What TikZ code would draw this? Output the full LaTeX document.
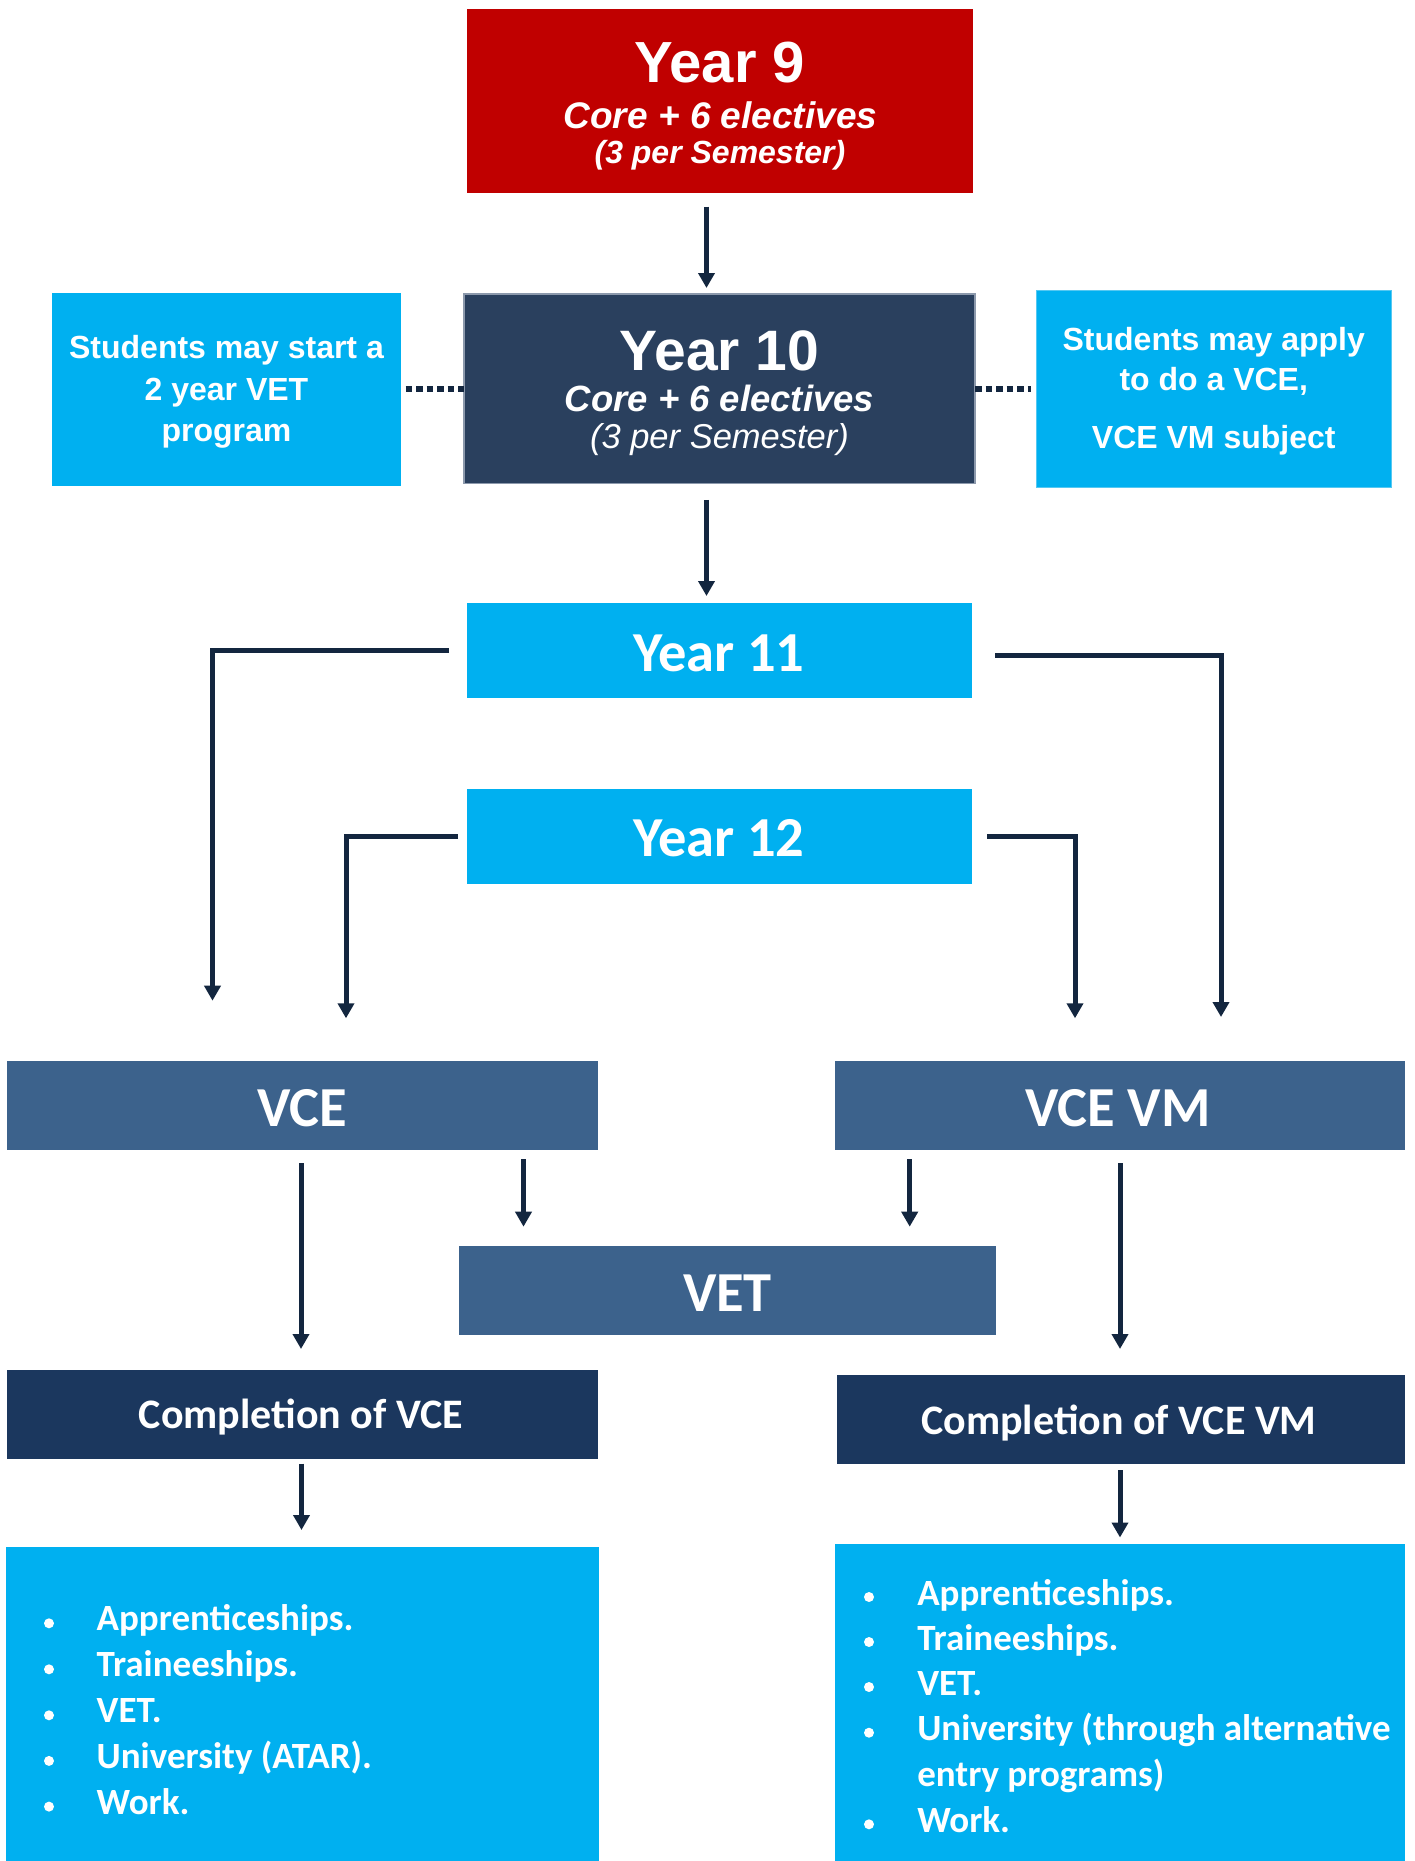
\documentclass[tikz,border=0pt]{standalone}
\usepackage{fontspec}
\newfontfamily\arial{Liberation Sans}
\newfontfamily\calibri{Carlito}
\usetikzlibrary{arrows.meta,calc}

\definecolor{redbox}{HTML}{C00000}
\definecolor{slatebox}{HTML}{2A405E}
\definecolor{slateedge}{HTML}{8C99AC}
\definecolor{cyanbox}{HTML}{00B0F0}
\definecolor{cyanedge}{HTML}{55C8F2}
\definecolor{steelbox}{HTML}{3C628C}
\definecolor{navybox}{HTML}{1B375E}
\definecolor{linkcol}{HTML}{13263F}

\newcommand\setpx[1]{\fontsize{#1}{#1}\selectfont}

\tikzset{
  box/.style={rectangle, inner sep=0pt, outer sep=0pt, draw=none},
  txt/.style={inner sep=0pt, outer sep=0pt, text=white, anchor=base},
  item/.style={txt, anchor=base west, font=\calibri\bfseries\setpx{37}},
  bull/.style={circle, fill=white, draw=none, minimum size=10pt, inner sep=0pt, outer sep=0pt},
  arr/.style={draw=linkcol, line width=5pt, -{Triangle[width=16pt,length=15pt]}},
  dots/.style={draw=linkcol, line width=6pt, dash pattern=on 6.5pt off 4pt},
}

\begin{document}
\begin{tikzpicture}[x=1pt,y=-1pt]
\useasboundingbox (0,0) rectangle (1415,1861);

% ---------- boxes ----------
\node[box, fill=redbox, minimum width=506pt, minimum height=183.5pt] (y9) at (719.5,100.75) {};
\node[box, fill=slatebox, draw=slateedge, line width=1.5pt, minimum width=511pt, minimum height=189.5pt] (y10) at (719.5,388.75) {};
\node[box, fill=cyanbox, minimum width=349pt, minimum height=192.5pt] (lnote) at (226.5,389.25) {};
\node[box, fill=cyanbox, draw=cyanedge, line width=1pt, minimum width=354.5pt, minimum height=197.5pt] (rnote) at (1213.75,388.75) {};
\node[box, fill=cyanbox, minimum width=505pt, minimum height=94.5pt] (y11) at (719.5,650.25) {};
\node[box, fill=cyanbox, minimum width=505pt, minimum height=94.5pt] (y12) at (719.5,836.25) {};
\node[box, fill=steelbox, minimum width=591pt, minimum height=88.5pt] (vce) at (302.5,1105.25) {};
\node[box, fill=steelbox, minimum width=570pt, minimum height=88.5pt] (vcevm) at (1119.5,1105.25) {};
\node[box, fill=steelbox, minimum width=537pt, minimum height=88.5pt] (vet) at (727,1290.25) {};
\node[box, fill=navybox, minimum width=591pt, minimum height=88.5pt] (cvce) at (302.5,1414.25) {};
\node[box, fill=navybox, minimum width=568pt, minimum height=88.5pt] (cvm) at (1120.5,1419.25) {};
\node[box, fill=cyanbox, minimum width=592.5pt, minimum height=314.5pt] (lvce) at (302.25,1703.75) {};
\node[box, fill=cyanbox, minimum width=570pt, minimum height=317.5pt] (lvm) at (1119.5,1702.25) {};

% ---------- box texts ----------
\node[txt, font=\arial\bfseries\setpx{58}] (y9a) at (719.5,82.7) {Year 9};
\node[txt, font=\arial\bfseries\itshape\setpx{37}] (y9b) at (720.5,128.3) {Core + 6 electives};
\node[txt, font=\arial\bfseries\itshape\setpx{32}] (y9c) at (720,163.3) {(3 per Semester)};

\node[txt, font=\arial\bfseries\setpx{57}] (y10a) at (719.5,370) {Year 10};
\node[txt, font=\arial\bfseries\itshape\setpx{36.5}] (y10b) at (719.5,411.7) {Core + 6 electives};
\node[txt, font=\arial\itshape\setpx{34.5}] (y10c) at (719.5,448.3) {(3 per Semester)};

\node[txt, font=\arial\bfseries\setpx{32}] (ln1) at (226.5,358.3) {Students may start a};
\node[txt, font=\arial\bfseries\setpx{32}] (ln2) at (226.5,400) {2 year VET};
\node[txt, font=\arial\bfseries\setpx{32}] (ln3) at (226.5,441.7) {program};

\node[txt, font=\arial\bfseries\setpx{32}] (rn1) at (1213.75,350) {Students may apply};
\node[txt, font=\arial\bfseries\setpx{32}] (rn2) at (1213.75,390) {to do a VCE,};
\node[txt, font=\arial\bfseries\setpx{32}] (rn3) at (1213.75,448.3) {VCE VM subject};

\node[txt, font=\calibri\bfseries\setpx{56.5}] (y11t) at (719,671) {Year 11};
\node[txt, font=\calibri\bfseries\setpx{56.5}] (y12t) at (719,856.7) {Year 12};
\node[txt, font=\calibri\bfseries\setpx{56.5}] (vcet) at (302,1126) {VCE};
\node[txt, font=\calibri\bfseries\setpx{56.5}] (vcevmt) at (1118,1126) {VCE VM};
\node[txt, font=\calibri\bfseries\setpx{56.5}] (vett) at (727.5,1311.7) {VET};
\node[txt, font=\calibri\bfseries\setpx{42}] (cvcet) at (301,1428.3) {Completion of VCE};
\node[txt, font=\calibri\bfseries\setpx{42}] (cvmt) at (1119,1434) {Completion of VCE VM};

% ---------- outcome lists ----------
\node[bull] (lb1) at (49,1623.3) {};
\node[bull] (lb2) at (49,1669.3) {};
\node[bull] (lb3) at (49,1715.3) {};
\node[bull] (lb4) at (49,1760.9) {};
\node[bull] (lb5) at (49,1806.6) {};
\node[item] (li1) at (96.7,1630.7) {Apprenticeships.};
\node[item] (li2) at (96.7,1676.7) {Traineeships.};
\node[item] (li3) at (96.7,1722.7) {VET.};
\node[item] (li4) at (96.7,1768.3) {University (ATAR).};
\node[item] (li5) at (96.7,1814) {Work.};

\node[bull] (rb1) at (869,1597) {};
\node[bull] (rb2) at (869,1642) {};
\node[bull] (rb3) at (869,1687) {};
\node[bull] (rb4) at (869,1732.7) {};
\node[bull] (rb5) at (869,1824.3) {};
\node[item] (ri1) at (917.3,1605) {Apprenticeships.};
\node[item] (ri2) at (917.3,1650) {Traineeships.};
\node[item] (ri3) at (917.3,1695) {VET.};
\node[item] (ri4) at (917.3,1740.7) {University (through alternative};
\node[item] (ri4b) at (917.3,1786.7) {entry programs)};
\node[item] (ri5) at (917.3,1832.3) {Work.};

% ---------- connectors ----------
\draw[arr] ($(y9.south)+(-13,14)$) -- ($(y10.north)+(-13,-6)$);
\draw[arr] ($(y10.south)+(-13,16.3)$) -- ($(y11.north)+(-13,-7)$);

\draw[dots] ($(lnote.east)+(4.7,0)$) -- (y10.west |- lnote.east);
\draw[dots] (y10.east |- rnote.west) -- ($(rnote.west)+(-6,0)$);

% branches from Year 11 and Year 12 towards VCE / VCE VM
\coordinate (t11l) at (212.5,1000.7);
\coordinate (t12l) at (346,1018.3);
\coordinate (t11r) at (1221,1017);
\coordinate (t12r) at (1075,1018.3);
\draw[arr] ($(y11.west)+(-18,0.5)$) -| (t11l);
\draw[arr] ($(y12.west)+(-9,0)$) -| (t12l);
\draw[arr] ($(y11.east)+(23,5.5)$) -| (t11r);
\draw[arr] ($(y12.east)+(15,0)$) -| (t12r);

% VCE / VCE VM into VET and completion
\draw[arr] ($(vce.south east)+(-74.5,9.5)$) -- ($(vet.north west)+(65,-19.3)$);
\draw[arr] ($(vcevm.south west)+(75.2,9.5)$) -- ($(vet.north east)+(-85.8,-19.3)$);
\draw[arr] ($(vce.south)+(-1.5,13.5)$) -- ($(cvce.north)+(-1.5,-21)$);
\draw[arr] ($(vcevm.south)+(0.5,13.5)$) -- ($(cvm.north)+(-0.5,-26)$);

% completion into outcomes
\draw[arr] ($(cvce.south)+(-1,5)$) -- ($(lvce.north)+(-0.75,-16.5)$);
\draw[arr] ($(cvm.south)+(-0.5,6.5)$) -- ($(lvm.north)+(0.5,-6)$);
\end{tikzpicture}
\end{document}
